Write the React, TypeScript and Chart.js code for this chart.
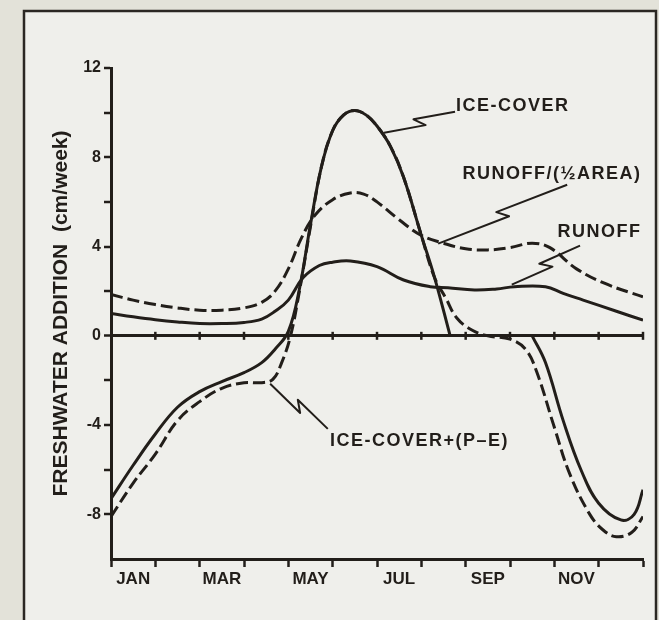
import { useEffect, useRef } from 'react';
import { Chart, registerables } from 'chart.js';

Chart.register(...registerables);

// ---------- data (months from start of JAN = 0 to end of DEC = 12; cm/week) ----------
const monthLabels = ['JAN', 'MAR', 'MAY', 'JUL', 'SEP', 'NOV'];
const yLabeledTicks = [-8, -4, 0, 4, 8, 12];

const iceCoverX = [0, 0.5, 1, 1.5, 2, 2.5, 3, 3.4, 3.7, 4, 4.25, 4.5, 4.75, 5, 5.25, 5.5, 5.75, 6, 6.3, 6.6, 7, 7.3, 7.65, 8.5, 9.5, 9.8, 10.2, 10.6, 11, 11.5, 11.8, 12];
const iceCoverY = [-7.3, -5.8, -4.4, -3.2, -2.5, -2.05, -1.65, -1.2, -0.6, 0.2, 2.1, 5.0, 7.6, 9.2, 9.9, 10.1, 9.9, 9.4, 8.5, 7.1, 4.5, 2.6, 0, null, 0, -1.2, -3.8, -6.0, -7.5, -8.25, -8.0, -6.9];

const icePEX = [0, 0.5, 1, 1.5, 2, 2.5, 3, 3.4, 3.65, 3.85, 4.05, 4.25, 4.5, 4.75, 5, 5.25, 5.5, 5.75, 6, 6.3, 6.6, 7, 7.3, 7.55, 7.8, 8.15, 8.5, 9, 9.35, 9.6, 10, 10.35, 10.8, 11.1, 11.4, 11.75, 12];
const icePEY = [-8.1, -6.6, -5.3, -3.8, -2.95, -2.35, -2.1, -2.1, -1.95, -1.2, 0, 2.0, 4.9, 7.6, 9.2, 9.9, 10.1, 9.9, 9.4, 8.5, 7.1, 4.5, 2.6, 1.7, 0.8, 0.25, 0, -0.15, -0.6, -1.6, -4.1, -6.2, -8.0, -8.7, -9.0, -8.8, -8.1];

const runoffHalfX = [0, 0.5, 1, 1.5, 2, 2.5, 3, 3.4, 3.7, 4, 4.3, 4.6, 5, 5.4, 5.7, 6, 6.5, 7, 7.5, 8, 8.5, 9, 9.5, 9.9, 10.5, 11.2, 12];
const runoffHalfY = [1.85, 1.6, 1.4, 1.25, 1.15, 1.15, 1.25, 1.5, 2.0, 3.0, 4.4, 5.4, 6.1, 6.4, 6.35, 6.0, 5.2, 4.5, 4.15, 3.9, 3.85, 3.95, 4.15, 3.95, 3.0, 2.3, 1.75];

const runoffX = [0, 0.5, 1, 1.5, 2, 2.5, 3, 3.4, 3.7, 4, 4.33, 4.7, 5, 5.4, 6, 6.6, 7.2, 7.6, 8.2, 8.7, 9.1, 9.8, 10.2, 10.65, 11.4, 12];
const runoffY = [1.0, 0.85, 0.72, 0.62, 0.55, 0.55, 0.6, 0.75, 1.1, 1.6, 2.6, 3.15, 3.3, 3.35, 3.1, 2.5, 2.2, 2.15, 2.05, 2.1, 2.2, 2.2, 1.9, 1.6, 1.1, 0.7];

// annotations (data coordinates)
const noteTexts = ['ICE-COVER', 'RUNOFF/(½AREA)', 'RUNOFF', 'ICE-COVER+(P–E)'];
const noteX = [7.78, 7.93, 10.07, 4.94];
const noteY = [10.3, 7.25, 4.65, -4.7];
const leaderFromX = [7.76, 10.29, 10.58, 4.89];
const leaderFromY = [10.04, 6.77, 4.04, -4.17];
const leaderToX = [6.16, 7.38, 9.04, 3.59];
const leaderToY = [9.1, 4.13, 2.29, -2.15];

const INK = '#221e1a';
const FONT = "'Liberation Sans', Arial, Helvetica, sans-serif";

const pts = (xs: number[], ys: (number | null)[]) => xs.map((x, i) => ({ x, y: ys[i] }));

const decorPlugin = {
  id: 'decor',
  beforeDraw(chart: any) {
    const { ctx, width, height } = chart;
    ctx.save();
    ctx.fillStyle = '#e3e2d9';
    ctx.fillRect(0, 0, width, height);
    ctx.fillStyle = '#efefeb';
    ctx.fillRect(24, 11, 632, height);
    ctx.strokeStyle = '#2b2723';
    ctx.lineWidth = 2.5;
    ctx.strokeRect(24, 11, 632, height + 20);
    ctx.restore();
  },
  beforeDatasetsDraw(chart: any) {
    const { ctx, scales } = chart;
    const y0 = scales.y.getPixelForValue(0);
    ctx.save();
    ctx.strokeStyle = INK;
    ctx.lineWidth = 2.5;
    for (let m = 1; m <= 12; m++) {
      const x = scales.x.getPixelForValue(m);
      ctx.beginPath();
      ctx.moveTo(x, y0 - 4);
      ctx.lineTo(x, y0 + 4);
      ctx.stroke();
    }
    ctx.restore();
  },
  afterDatasetsDraw(chart: any) {
    const { ctx, scales } = chart;
    const sx = (v: number) => scales.x.getPixelForValue(v);
    const sy = (v: number) => scales.y.getPixelForValue(v);
    ctx.save();
    ctx.strokeStyle = INK;
    ctx.lineWidth = 2;
    ctx.lineJoin = 'round';
    for (let i = 0; i < leaderFromX.length; i++) {
      const x0 = sx(leaderFromX[i]), y0 = sy(leaderFromY[i]);
      const x1 = sx(leaderToX[i]), y1 = sy(leaderToY[i]);
      const L = Math.hypot(x1 - x0, y1 - y0);
      const dx = (x1 - x0) / L, dy = (y1 - y0) / L;
      const px = -dy, py = dx;
      const mx = (x0 + x1) / 2, my = (y0 + y1) / 2;
      const k = 5, h = 9;
      ctx.beginPath();
      ctx.moveTo(x0, y0);
      ctx.lineTo(mx + dx * k + px * h / 2, my + dy * k + py * h / 2);
      ctx.lineTo(mx - dx * k - px * h / 2, my - dy * k - py * h / 2);
      ctx.lineTo(x1, y1);
      ctx.stroke();
    }
    ctx.fillStyle = INK;
    ctx.font = `bold 18px ${FONT}`;
    (ctx as any).letterSpacing = '1.5px';
    ctx.textAlign = 'left';
    ctx.textBaseline = 'middle';
    for (let i = 0; i < noteTexts.length; i++) {
      ctx.fillText(noteTexts[i], sx(noteX[i]), sy(noteY[i]));
    }
    (ctx as any).letterSpacing = '0px';
    ctx.restore();
  },
};

export default function App() {
  const ref = useRef<HTMLCanvasElement>(null);
  useEffect(() => {
    const canvas = ref.current;
    if (!canvas) return;
    const lineBase = {
      borderColor: INK,
      borderWidth: 3,
      pointRadius: 0,
      fill: false,
      tension: 0.4,
      spanGaps: false,
    };
    const chart = new Chart(canvas, {
      type: 'line',
      data: {
        datasets: [
          { ...lineBase, label: 'ICE-COVER', data: pts(iceCoverX, iceCoverY) },
          { ...lineBase, label: 'ICE-COVER+(P-E)', data: pts(icePEX, icePEY), borderDash: [12, 5] },
          { ...lineBase, label: 'RUNOFF/(1/2AREA)', data: pts(runoffHalfX, runoffHalfY), borderDash: [12, 5] },
          { ...lineBase, label: 'RUNOFF', data: pts(runoffX, runoffY) },
        ],
      } as any,
      options: {
        responsive: false,
        animation: false,
        events: [],
        layout: { padding: { left: 20, right: 16, top: 68, bottom: 21 } },
        plugins: { legend: { display: false }, tooltip: { enabled: false } },
        scales: {
          x: {
            type: 'linear',
            min: 0,
            max: 12,
            afterFit: (s: any) => { s.height = 40; },
            border: { display: true, color: INK, width: 3 },
            grid: {
              drawOnChartArea: false,
              drawTicks: true,
              tickLength: 8,
              tickWidth: 2.5,
              tickColor: (c: any) => (Number.isInteger(c.tick?.value) ? INK : 'rgba(0,0,0,0)'),
            },
            ticks: {
              stepSize: 0.5,
              autoSkip: false,
              maxRotation: 0,
              minRotation: 0,
              padding: 2,
              color: INK,
              font: { family: FONT, size: 17, weight: 'bold' },
              callback: (v: any) => {
                const k = Number(v) - 0.5;
                if (Number.isInteger(k) && k % 2 === 0) return monthLabels[k / 2] ?? '';
                return '';
              },
            },
          },
          y: {
            type: 'linear',
            min: -10,
            max: 12,
            afterFit: (s: any) => { s.width = 91; },
            border: { display: true, color: INK, width: 3 },
            grid: {
              drawOnChartArea: true,
              drawTicks: true,
              tickLength: 7,
              tickWidth: 2.5,
              color: (c: any) => (c.tick?.value === 0 ? INK : 'rgba(0,0,0,0)'),
              lineWidth: (c: any) => (c.tick?.value === 0 ? 3 : 0),
              tickColor: (c: any) => (c.tick?.value === -10 ? 'rgba(0,0,0,0)' : INK),
            },
            ticks: {
              stepSize: 2,
              padding: 3,
              color: INK,
              font: { family: FONT, size: 16, weight: 'bold' },
              callback: (v: any) => (yLabeledTicks.includes(Number(v)) ? String(v) : ''),
            },
            title: {
              display: true,
              text: 'FRESHWATER ADDITION  (cm/week)',
              color: INK,
              font: { family: FONT, size: 21, weight: 'bold' },
              padding: { top: 29, bottom: 0 },
            },
          },
        },
      } as any,
      plugins: [decorPlugin],
    });
    return () => chart.destroy();
  }, []);
  return (
    <div style={{ position: 'absolute', left: 0, top: 0, width: 659, height: 620 }}>
      <canvas ref={ref} width={659} height={620} style={{ display: 'block', width: 659, height: 620 }} />
    </div>
  );
}
